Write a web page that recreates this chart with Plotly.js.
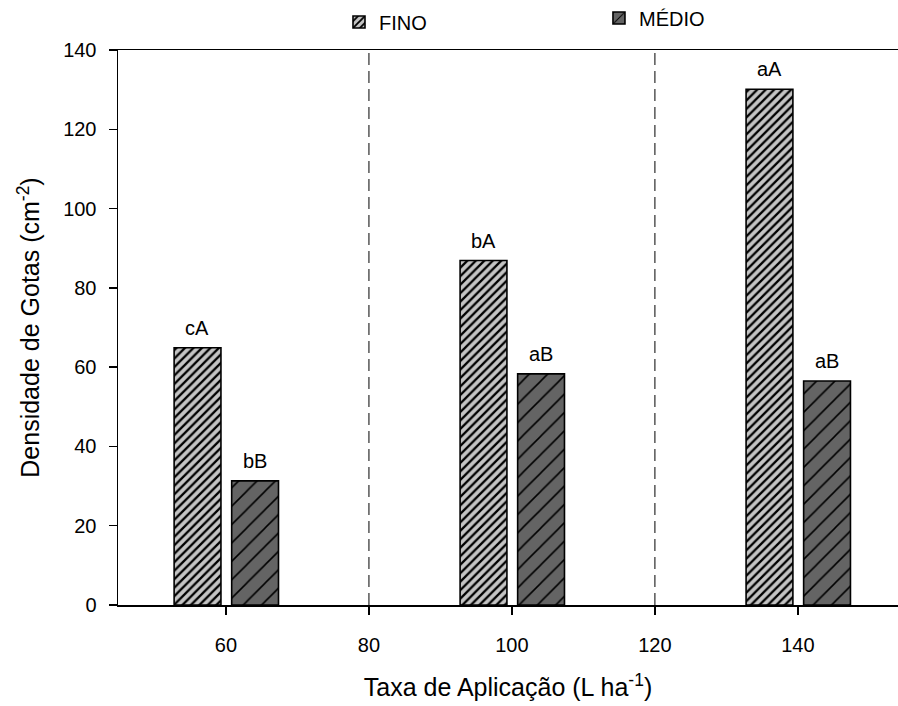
<!DOCTYPE html>
<html>
<head>
<meta charset="utf-8">
<script src="https://cdn.plot.ly/plotly-3.0.1.min.js"></script>
<style>html,body{margin:0;padding:0;background:#fff;}#chart{width:898px;height:706px;}</style>
</head>
<body>
<div id="chart"></div>
<script>
// ---- data ----
const rates = [60, 100, 140];
const finoValues = [64.9, 86.9, 130.1];
const medioValues = [31.3, 58.3, 56.5];
const finoLabels = ['cA', 'bA', 'aA'];
const medioLabels = ['bB', 'aB', 'aB'];
const separators = [80, 120];
const xTicks = [60, 80, 100, 120, 140];
const yTicks = [0, 20, 40, 60, 80, 100, 120, 140];
const seriesNames = ['FINO', 'MÉDIO'];

const FONT = 'Liberation Sans, Arial, sans-serif';

const traceFino = {
  type: 'bar', x: rates, y: finoValues, name: seriesNames[0],
  width: 6.55, offset: -7.25,
  marker: {
    color: '#c4c4c4',
    line: {color: '#000', width: 1.6},
    pattern: {shape: '/', size: 6, solidity: 0.38, fgcolor: '#000', bgcolor: '#c4c4c4', fillmode: 'replace'}
  },
  legend: 'legend'
};
const traceMedio = {
  type: 'bar', x: rates, y: medioValues, name: seriesNames[1],
  width: 6.55, offset: 0.8,
  marker: {
    color: '#646464',
    line: {color: '#000', width: 1.6},
    pattern: {shape: '/', size: 13, solidity: 0.12, fgcolor: '#000', bgcolor: '#646464', fillmode: 'replace'}
  },
  legend: 'legend2'
};

function labelAnnotations(values, labels, xshift) {
  return rates.map((r, i) => ({
    xref: 'x', yref: 'y', x: r, y: values[i], text: labels[i],
    showarrow: false, xanchor: 'center', yanchor: 'bottom',
    xshift: xshift, yshift: 7,
    font: {family: FONT, size: 20, color: '#000'}
  }));
}

const annotations = labelAnnotations(finoValues, finoLabels, -28.5)
  .concat(labelAnnotations(medioValues, medioLabels, 29));

const shapes = separators.map(v => ({
  type: 'line', xref: 'x', yref: 'paper', x0: v, x1: v, y0: 0, y1: 1,
  line: {color: '#000', width: 1, dash: '12px,6px'}
}));

const layout = {
  width: 898, height: 706,
  margin: {l: 118, r: 0, t: 50, b: 101},
  paper_bgcolor: '#fff', plot_bgcolor: '#fff',
  font: {family: FONT, size: 20, color: '#000'},
  barmode: 'group',
  showlegend: true,
  legend: {
    xref: 'container', yref: 'container',
    x: 0.3775, xanchor: 'left', y: 0.9688, yanchor: 'middle',
    orientation: 'h', bgcolor: 'rgba(0,0,0,0)',
    font: {family: FONT, size: 20, color: '#000'}
  },
  legend2: {
    xref: 'container', yref: 'container',
    x: 0.667, xanchor: 'left', y: 0.9745, yanchor: 'middle',
    orientation: 'h', bgcolor: 'rgba(0,0,0,0)',
    font: {family: FONT, size: 20, color: '#000'}
  },
  xaxis: {
    range: [44.9, 154], tickvals: xTicks, ticktext: xTicks.map(String),
    showgrid: false, zeroline: false,
    showline: true, linecolor: '#000', linewidth: 1.5, mirror: true,
    ticks: 'outside', ticklen: 8, tickwidth: 1.5, tickcolor: '#000',
    ticklabelstandoff: 13,
    tickfont: {family: FONT, size: 20, color: '#000'},
    title: {text: 'Taxa de Aplicação (L ha<sup>-1</sup>)', font: {family: FONT, size: 25, color: '#000'}, standoff: 24}
  },
  yaxis: {
    range: [0, 140], tickvals: yTicks, ticktext: yTicks.map(String),
    showgrid: false, zeroline: false,
    showline: true, linecolor: '#000', linewidth: 1.5,
    ticks: 'outside', ticklen: 8, tickwidth: 1.5, tickcolor: '#000',
    ticklabelstandoff: 8,
    tickfont: {family: FONT, size: 20, color: '#000'},
    title: {text: 'Densidade de Gotas (cm<sup>-2</sup>)', font: {family: FONT, size: 25, color: '#000'}, standoff: 16}
  },
  shapes: shapes,
  annotations: annotations
};

Plotly.newPlot('chart', [traceFino, traceMedio], layout, {displayModeBar: false, staticPlot: true});
</script>
</body>
</html>
